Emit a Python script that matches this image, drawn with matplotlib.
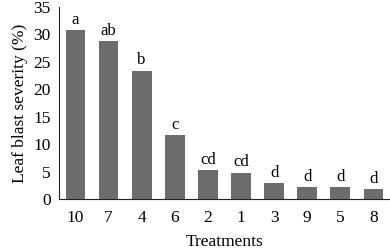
import matplotlib
matplotlib.use("Agg")
import matplotlib.pyplot as plt

treatments = ["10", "7", "4", "6", "2", "1", "3", "9", "5", "8"]
severity = [30.8, 28.8, 23.4, 11.6, 5.3, 4.8, 2.9, 2.1, 2.1, 1.8]
letters = ["a", "ab", "b", "c", "cd", "cd", "d", "d", "d", "d"]

plt.rcParams["font.family"] = ["Liberation Serif", "DejaVu Serif"]

fig = plt.figure(figsize=(3.9, 2.5), dpi=100)
ax = fig.add_axes([0.151, 0.204, 0.849, 0.768])

x = range(len(treatments))
bars = ax.bar(x, severity, width=0.6, color="#6b6c6e")
for b, lab in zip(bars, letters):
    ax.text(b.get_x() + b.get_width() / 2, b.get_height() + 0.4, lab,
            ha="center", va="bottom", fontsize=12)

ax.set_xlim(-0.5, 9.5)
ax.set_ylim(0, 35)
ax.set_yticks(range(0, 36, 5))
ax.set_xticks(list(x))
ax.set_xticklabels(treatments)
ax.tick_params(length=0, labelsize=12.5)
ax.tick_params(axis="x", pad=8)
ax.tick_params(axis="y", pad=6)
ax.set_xlabel("Treatments", fontsize=12.5, labelpad=6)
ax.set_ylabel("Leaf blast severity (%)", fontsize=12.5, labelpad=4)
for s in ["top", "right"]:
    ax.spines[s].set_visible(False)
ax.spines["left"].set_color("#222222")
ax.spines["bottom"].set_color("#222222")

fig.savefig("out.png", dpi=100)
